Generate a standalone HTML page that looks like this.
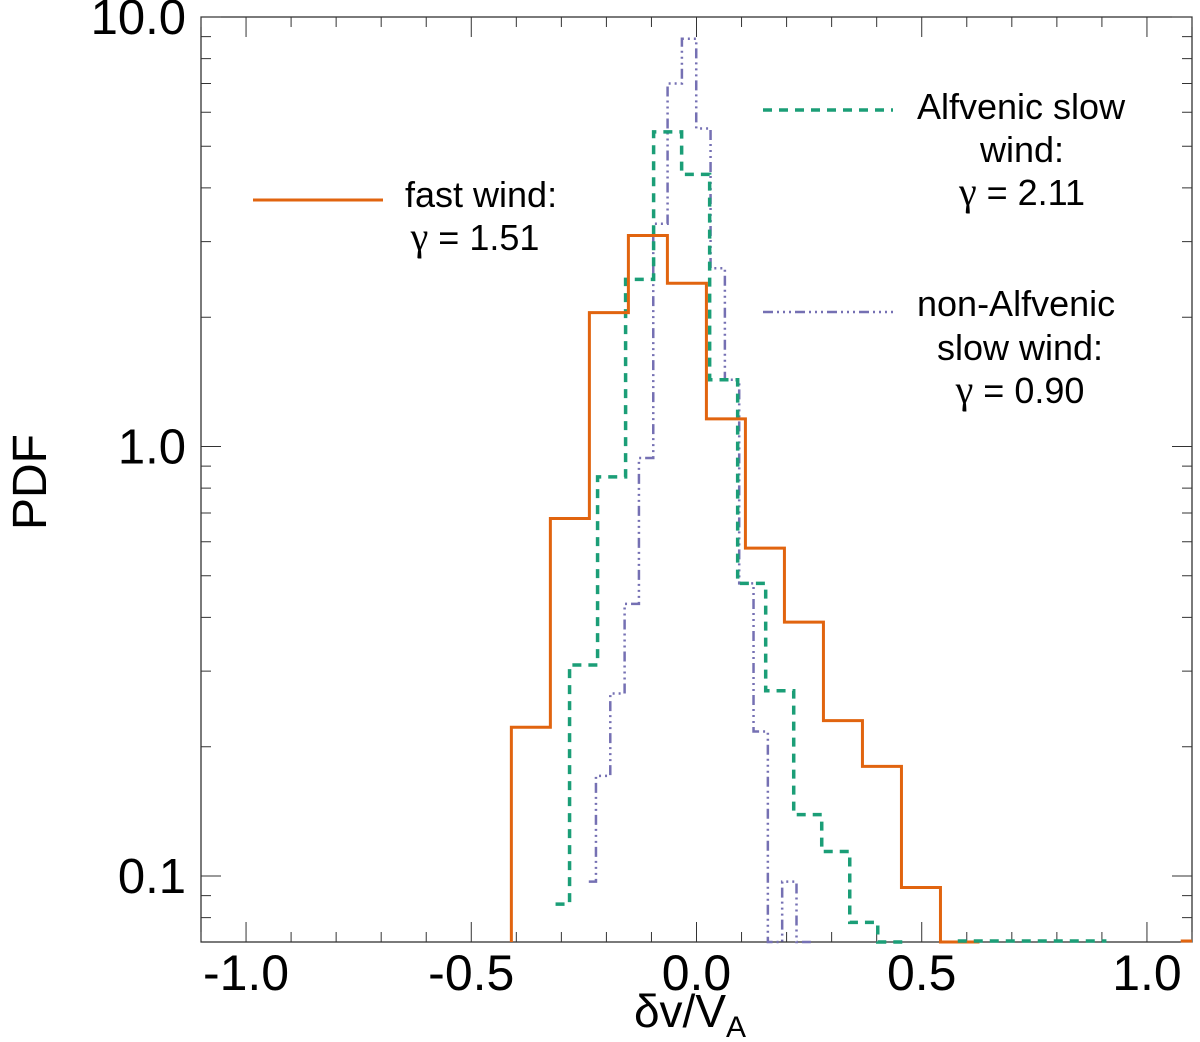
<!DOCTYPE html>
<html><head><meta charset="utf-8"><style>
body{margin:0;background:#fff}
svg{display:block;font-family:"Liberation Sans",sans-serif}
</style></head><body>
<svg id="c" width="1200" height="1042">
<g id="axes"></g><g id="series"></g><g id="legend"></g>
</svg>
<script>
const fastStart=-0.411, fastWidth=0.0866;
const fastValues=[0.222,0.68,2.05,3.1,2.4,1.16,0.58,0.39,0.23,0.18,0.094,0.01];
const alfStart=-0.344, alfWidth=0.0622;
const alfValues=[0.086,0.31,0.85,2.45,5.4,4.3,1.43,0.48,0.27,0.139,0.114,0.078,0.01];
const nonStart=-0.255, nonWidth=0.0318;
const nonValues=[0.097,0.171,0.266,0.43,0.94,3.3,7.0,8.9,5.5,2.6,1.43,0.48,0.217,0.01,0.097,0.01];
const xTicks=[-1.0,-0.5,0.0,0.5,1.0];
const xTickLabels=["-1.0","-0.5","0.0","0.5","1.0"];
const yTicks=[0.1,1.0,10.0];
const yTickLabels=["0.1","1.0","10.0"];

const L=201,R=1192,T=17,B=942,XMIN=-1.1,XMAX=1.1,YMIN=0.0702,YMAX=10;
const NS='http://www.w3.org/2000/svg';
function sx(v){return L+(v-XMIN)/(XMAX-XMIN)*(R-L);}
function sy(v){v=Math.max(v,YMIN);return B-(Math.log10(v)-Math.log10(YMIN))/(Math.log10(YMAX)-Math.log10(YMIN))*(B-T);}
function mk(tag,attrs,parent){const e=document.createElementNS(NS,tag);for(const k in attrs)e.setAttribute(k,attrs[k]);parent.appendChild(e);return e;}
const axes=document.getElementById('axes'),ser=document.getElementById('series'),leg=document.getElementById('legend');

const frame=mk('rect',{x:L,y:T,width:R-L,height:B-T,fill:'none',stroke:'#222','stroke-width':1.2},axes);


for(let i=-11;i<=11;i++){const v=i/10,x=sx(v),maj=(i%5===0),len=maj?20:10;
 const t=mk('path',{d:`M${x},${B}V${B-len}M${x},${T}V${T+len}`,stroke:'#333','stroke-width':1},axes);
 
 }
xTicks.forEach((v,i)=>{const t=mk('text',{x:sx(v),y:990,'font-size':50,'text-anchor':'middle',fill:'#000'},axes);t.textContent=xTickLabels[i];
 
 });
for(let d=-2;d<=1;d++)for(let m=1;m<=9;m++){const v=m*Math.pow(10,d);if(v<YMIN||v>YMAX+1e-9)continue;const y=sy(v),len=m===1?20:10;
 const t=mk('path',{d:`M${L},${y}H${L+len}M${R},${y}H${R-len}`,stroke:'#333','stroke-width':1},axes);
 
 }
yTicks.forEach((v,i)=>{const t=mk('text',{x:186,y:sy(v)+17,'font-size':49,'text-anchor':'end',fill:'#000'},axes);t.textContent=yTickLabels[i];
 
 });
const yt=mk('text',{x:0,y:0,'font-size':48,'text-anchor':'middle',transform:'translate(46,482) rotate(-90)'},axes);yt.textContent='PDF';


const xt=mk('text',{x:690,y:1027,'font-size':46,'text-anchor':'middle'},axes);
xt.innerHTML='δv/V<tspan font-size="30" dy="10">A</tspan>';



function hist(start,w,vals,style,name,fromCenter){
 let d=fromCenter?`M${sx(start+w/2)},${sy(vals[0])}`:`M${sx(start)},${B}`;
 vals.forEach((v,i)=>{const x1=sx(start+(i+1)*w),y=sy(v);d+=`V${y}H${x1}`;});
 d+=`V${B}`;
 const p=mk('path',Object.assign({d:d,fill:'none'},style),ser);
 
 
}
const sOr={stroke:'#e1640f','stroke-width':3};
const sGr={stroke:'#1b9e77','stroke-width':3.5,'stroke-dasharray':'9,7'};
const sPu={stroke:'#7570b3','stroke-width':2.5,'stroke-dasharray':'10,4,2,4,2,4,2,4'};
hist(nonStart,nonWidth,nonValues,sPu,'non-alfvenic-slow-wind-histogram',true);
hist(alfStart,alfWidth,alfValues,sGr,'alfvenic-slow-wind-histogram',true);
hist(fastStart,fastWidth,fastValues,sOr,'fast-wind-histogram',false);
mk('path',Object.assign({d:`M${sx(0.58)},${B-1}H${sx(0.91)}`,fill:'none'},sGr),ser);
mk('path',Object.assign({d:`M${sx(1.075)},${B-1}H${R}`,fill:'none'},sOr),ser);

function legItem(y,style,lines,ys,cx,name,tx){
 const l=mk('path',Object.assign({d:`M${tx[0]},${y}H${tx[1]}`,fill:'none'},style),leg);
 
 
 lines.forEach((s,i)=>{const t=mk('text',{x:i===0?tx[2]:cx,y:ys[i],'font-size':36,'text-anchor':i===0?'start':'middle'},leg);
  if(s.startsWith('γ')){t.innerHTML='<tspan font-family="Liberation Serif" font-size="40">γ</tspan>'+s.slice(1);}else t.textContent=s;
  
  });
}
legItem(200,sOr,['fast wind:','γ = 1.51'],[207,250],475,'legend-fast-wind',[253,383,405]);
legItem(110,sGr,['Alfvenic slow','wind:','γ = 2.11'],[119,162,205],1022,'legend-alfvenic-slow-wind',[763,893,917]);
legItem(312,sPu,['non-Alfvenic','slow wind:','γ =  0.90'],[316,360,403],1020,'legend-non-alfvenic-slow-wind',[763,893,917]);
</script>
</body></html>
